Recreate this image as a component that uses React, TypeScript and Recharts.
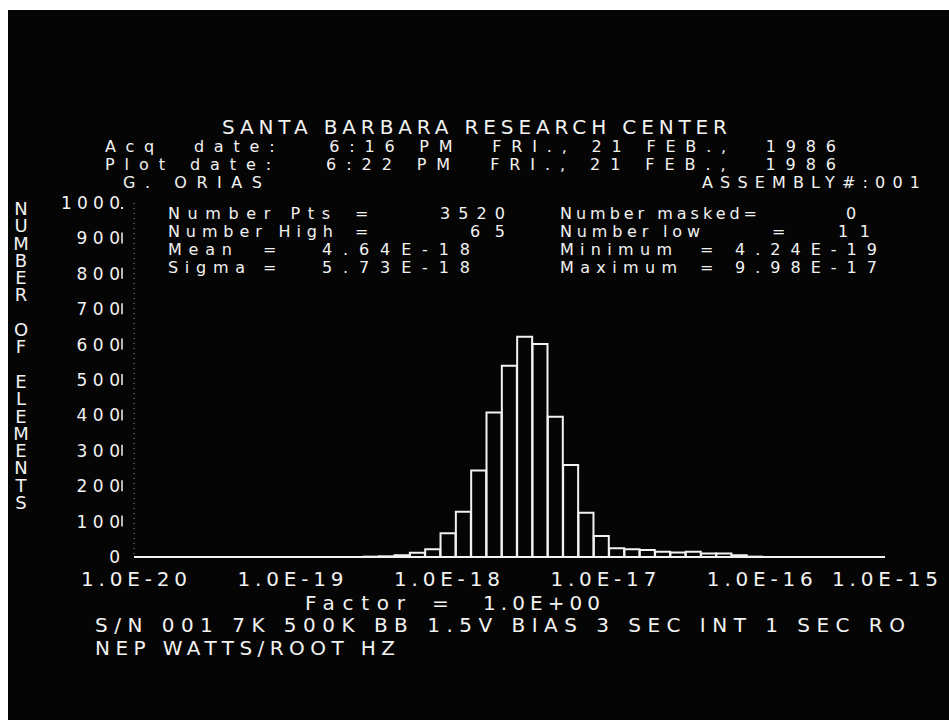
import React from 'react';
import { ComposedChart, Bar, XAxis, YAxis } from 'recharts';

// Histogram counts, 49 bins of 0.1 decade starting at 1.0E-20
const BIN_COUNTS = [
  0, 0, 0, 0, 0, 0, 0, 0, 0, 0, 0, 0, 0, 0, 0,
  1, 2, 5, 12, 22, 67, 128, 244, 408, 540, 622, 602, 396, 260, 125, 59,
  25, 22, 20, 15, 13, 15, 10, 10, 5, 1,
  0, 0, 0, 0, 0, 0, 0, 0,
];
const X_TICK_BINS = [0, 10, 20, 30, 40, 49];
const X_TICK_LABELS = ['1.0E-20', '1.0E-19', '1.0E-18', '1.0E-17', '1.0E-16', '1.0E-15'];
const Y_TICKS = [0, 100, 200, 300, 400, 500, 600, 700, 800, 900, 1000];
const Y_TITLE = 'NUMBER OF ELEMENTS';

const TITLE = 'SANTA BARBARA RESEARCH CENTER';
const ACQ_LINE = 'Acq  date:   6:16 PM  FRI., 21 FEB.,  1986';
const PLOT_LINE = 'Plot date:   6:22 PM  FRI., 21 FEB.,  1986';
const AUTHOR = 'G. ORIAS';
const ASSEMBLY = 'ASSEMBLY#:001';
const STATS_LEFT = [
  ['Number Pts', '=', '3520'],
  ['Number High', '=', '65'],
  ['Mean', '=', '4.64E-18'],
  ['Sigma', '=', '5.73E-18'],
];
const STATS_RIGHT = [
  ['Number masked=', '', '0'],
  ['Number low', '=', '11'],
  ['Minimum', '=', '4.24E-19'],
  ['Maximum', '=', '9.98E-17'],
];
const FACTOR = ['Factor', '=', '1.0E+00'];
const FOOT1 = 'S/N 001 7K 500K BB 1.5V BIAS 3 SEC INT 1 SEC RO';
const FOOT2 = 'NEP WATTS/ROOT HZ';

const data = BIN_COUNTS.map((count, i) => ({ bin: i, count }));

const FONT = '"DejaVu Sans", sans-serif';
const INK = '#f2f2f2';

const S = (p: { x: number; y: number; w: number; children: string }) => (
  <tspan x={p.x} y={p.y} textLength={p.w} lengthAdjust="spacing">{p.children}</tspan>
);

const XTick = (props: any) => {
  const { x, y, payload } = props;
  const idx = X_TICK_BINS.indexOf(payload.value);
  const label = X_TICK_LABELS[idx] ?? '';
  const last = idx === X_TICK_BINS.length - 1;
  return (
    <text x={last ? 938 : x} y={y + 21} textAnchor={last ? 'end' : 'middle'} textLength={106} lengthAdjust="spacing"
      fontSize={20} fontFamily={FONT} fill={INK}>
      {label}
    </text>
  );
};

const YTick = (props: any) => {
  const { x, y, payload } = props;
  const v = payload.value as number;
  const s = String(v);
  return (
    <g>
      <text x={x - 6} y={y + 6} textAnchor="end" textLength={s.length * 15.5 - 3} lengthAdjust="spacing"
        fontSize={17} fontFamily={FONT} fill={INK}>
        {s}
      </text>
      {v === 1000 ? (
        <rect x={x - 5} y={y + 4} width={2} height={2} fill={INK} />
      ) : v !== 0 ? (
        <line x1={x - 4} x2={x - 4} y1={y - 6} y2={y + 5} stroke={INK} strokeWidth={1.5} />
      ) : null}
    </g>
  );
};

export default function App() {
  const leftW = [
    [162, 15, 65],
    [165, 15, 35],
    [64, 15, 148],
    [77, 15, 148],
  ];
  const leftValX = [440, 470, 322, 322];
  const leftEqX = [355, 355, 263, 263];
  const rowY = [219, 237, 255, 273];
  const rightW = [
    [197, 0, 16],
    [140, 12, 32],
    [112, 12, 142],
    [117, 12, 142],
  ];
  const rightValX = [846, 838, 735, 735];
  const rightEqX = [0, 772, 700, 700];
  const txt = { fontFamily: FONT, fill: INK, style: { whiteSpace: 'pre' as const } };

  return (
    <div style={{ position: 'fixed', left: 0, top: 0, width: 949, height: 720, background: '#ffffff' }}>
      <div style={{ position: 'absolute', left: 8, top: 10, width: 941, height: 710, background: '#050505' }} />
      <div style={{ position: 'absolute', left: 0, top: 0 }}>
        <ComposedChart width={949} height={720} data={data} barCategoryGap={0} barGap={0}
          margin={{ top: 203, right: 64, bottom: 123, left: 0 }}>
          <XAxis xAxisId="cat" dataKey="bin" type="category" hide height={0} />
          <XAxis xAxisId="num" type="number" domain={[0, 49]} ticks={X_TICK_BINS} height={40}
            axisLine={{ stroke: INK, strokeWidth: 2 }} tickLine={false} tick={<XTick />} interval={0} />
          <YAxis type="number" domain={[0, 1000]} ticks={Y_TICKS} width={134} interval={0}
            axisLine={{ stroke: INK, strokeWidth: 1, strokeDasharray: '1 4', strokeOpacity: 0.6 }}
            tickLine={false} tick={<YTick />} />
          <Bar xAxisId="cat" dataKey="count" fill="none" stroke={INK} strokeWidth={2} isAnimationActive={false} />
        </ComposedChart>
      </div>
      <svg width={949} height={720} style={{ position: 'absolute', left: 0, top: 0, pointerEvents: 'none' }}>
        {/* header block */}
        <text {...txt} fontSize={20}>
          <S x={222} y={134} w={505}>{TITLE}</S>
        </text>
        <text {...txt} fontSize={16}>
          <S x={105} y={152} w={731}>{ACQ_LINE}</S>
          <S x={105} y={170} w={731}>{PLOT_LINE}</S>
          <S x={123} y={188} w={139}>{AUTHOR}</S>
          <S x={702} y={188} w={218}>{ASSEMBLY}</S>
        </text>

        {/* statistics block */}
        <text {...txt} fontSize={16}>
          {STATS_LEFT.map((r, i) => (
            <React.Fragment key={'l' + i}>
              <S x={168} y={rowY[i]} w={leftW[i][0]}>{r[0]}</S>
              <S x={leftEqX[i]} y={rowY[i]} w={leftW[i][1]}>{r[1]}</S>
              <S x={leftValX[i]} y={rowY[i]} w={leftW[i][2]}>{r[2]}</S>
            </React.Fragment>
          ))}
        </text>
        <text {...txt} fontSize={16}>
          {STATS_RIGHT.map((r, i) => (
            <React.Fragment key={'r' + i}>
              <S x={560} y={rowY[i]} w={rightW[i][0]}>{r[0]}</S>
              {r[1] ? <S x={rightEqX[i]} y={rowY[i]} w={rightW[i][1]}>{r[1]}</S> : null}
              <S x={rightValX[i]} y={rowY[i]} w={rightW[i][2]}>{r[2]}</S>
            </React.Fragment>
          ))}
        </text>

        {/* vertical y-axis title, upright letters stacked */}
        <text {...txt} x={21} y={198} fontSize={18} textLength={315} lengthAdjust="spacing"
          style={{ whiteSpace: 'pre', writingMode: 'vertical-rl', textOrientation: 'upright' } as any}>
          {Y_TITLE}
        </text>

        {/* footer */}
        <text {...txt} fontSize={20}>
          <S x={305} y={610} w={100}>{FACTOR[0]}</S>
          <S x={432} y={610} w={15}>{FACTOR[1]}</S>
          <S x={483} y={610} w={117}>{FACTOR[2]}</S>
        </text>
        <text {...txt} fontSize={20}>
          <S x={95} y={632} w={810}>{FOOT1}</S>
          <S x={95} y={655} w={300}>{FOOT2}</S>
        </text>
      </svg>
    </div>
  );
}
